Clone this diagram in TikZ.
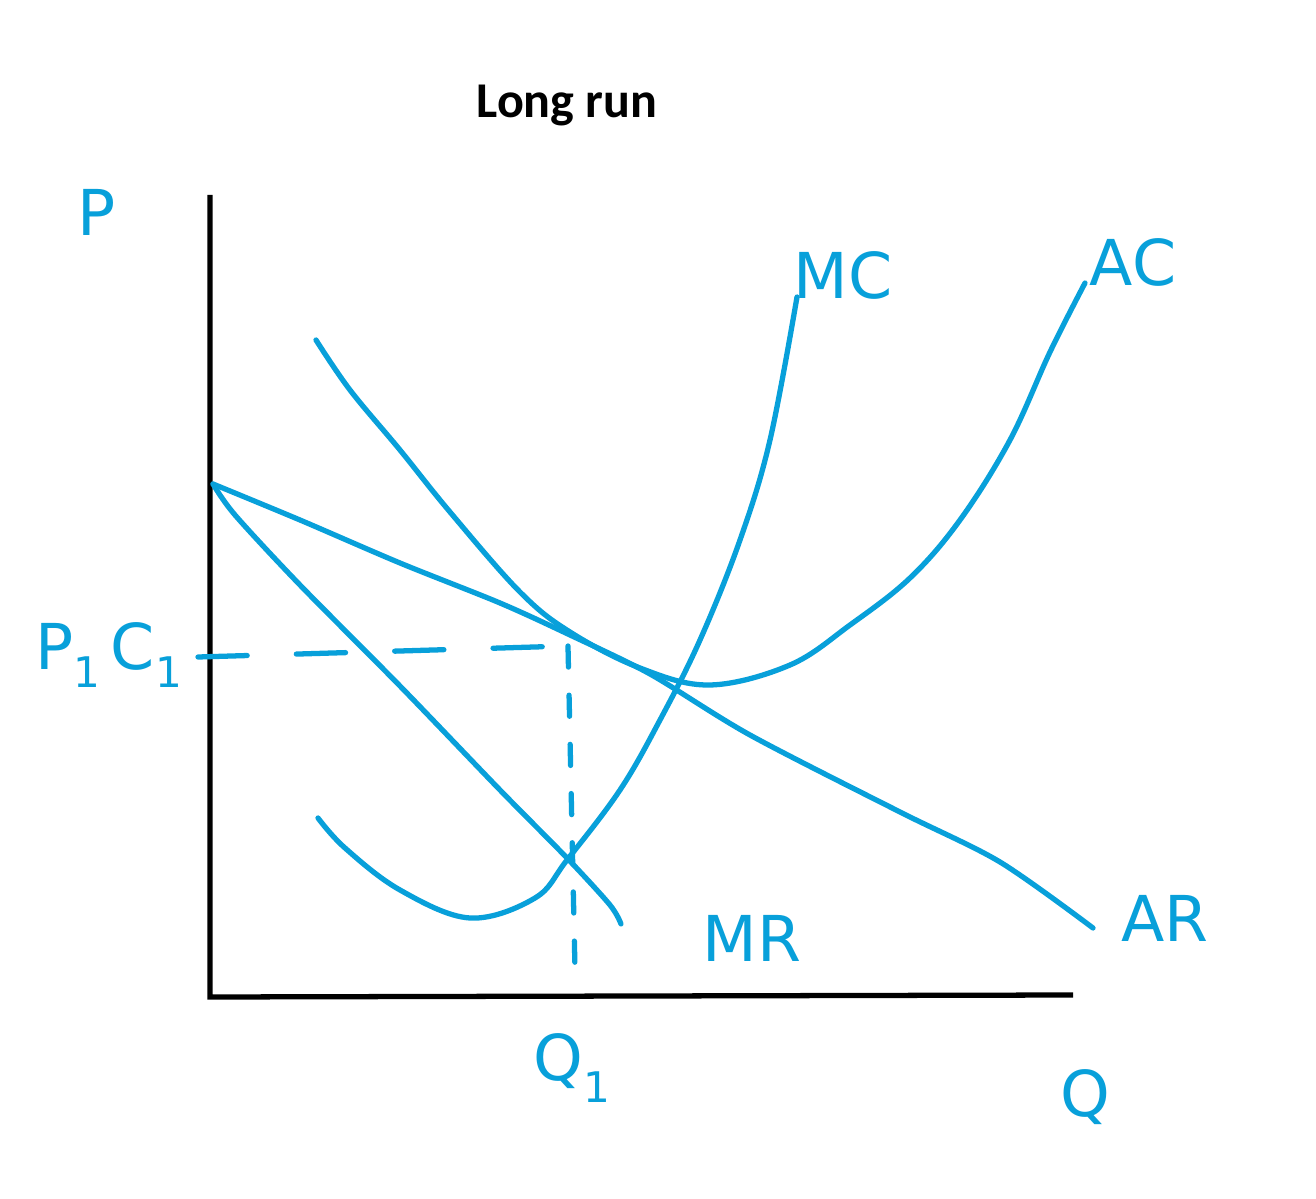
\documentclass[tikz,border=0pt]{standalone}
\usepackage{fontspec}
\setmainfont{DejaVu Sans}
\newfontfamily\titlefont{Carlito}
\definecolor{pen}{RGB}{8,160,218}
\begin{document}
\begin{tikzpicture}[x=0.02cm,y=-0.02cm,
  curve/.style={draw=pen,line width=3pt,line cap=round,line join=round},
  axis/.style={draw=black,line width=3pt},
  lbl/.style={text=pen,font=\fontsize{36}{40}\selectfont,inner sep=0pt},
  sub/.style={text=pen,font=\fontsize{24}{28}\selectfont,inner sep=0pt}]
\useasboundingbox[fill=white] (0,0) rectangle (1316,1199);
% title
\node[font=\titlefont\bfseries\fontsize{28.5}{32}\selectfont] (title) at (567,106) {Long run};
% axes
\coordinate (origin) at (210,997);
\coordinate (ytop) at (210,195);
\coordinate (xend) at (1073,995);
\draw[axis] (ytop) -- (origin) -- (xend);
% AR
\draw[curve] plot[smooth,tension=0.5] coordinates {(213,484) (300,520) (400,563) (500,603) (570,635) (650,674) (750,735) (900,812) (1000,862) (1093,928)};
% MR
\draw[curve] plot[smooth,tension=0.5] coordinates {(213,484) (235,515) (300,585) (400,686) (500,790) (567,858) (610,905) (621,924)};
% AC
\draw[curve] plot[smooth,tension=0.6] coordinates {(316,340) (350,390) (400,450) (450,512) (520,592) (570,632) (640,668) (710,685) (790,665) (850,625) (910,578) (960,520) (1010,440) (1050,352) (1085,283)};
% MC
\draw[curve] plot[smooth,tension=0.6] coordinates {(318,818) (345,848) (400,890) (470,918) (535,898) (567,860) (620,790) (660,720) (700,640) (740,540) (770,440) (797,297)};
% dashed guides
\coordinate (eq) at (568,646);
\draw[curve,dash pattern=on 28pt off 28pt] (198,657) -- (eq);
\draw[curve,dash pattern=on 12pt off 16pt] (eq) -- (575,970);
% labels
\node[lbl] (P) at (97,212) {P};
\node[lbl] (MC) at (843,275) {MC};
\node[lbl] (AC) at (1133,262) {AC};
\node[lbl,anchor=west] (PC) at (35,655) {P\raisebox{-10pt}{\fontsize{24}{28}\selectfont 1}\,C\raisebox{-10pt}{\fontsize{24}{28}\selectfont 1}};
\node[lbl,anchor=west] (Q1) at (533,1068) {Q\raisebox{-12pt}{\fontsize{24}{28}\selectfont 1}};
\node[lbl] (Q) at (1085,1097) {Q};
\node[lbl] (MR) at (752,938) {MR};
\node[lbl] (AR) at (1165,918) {AR};
\end{tikzpicture}
\end{document}
